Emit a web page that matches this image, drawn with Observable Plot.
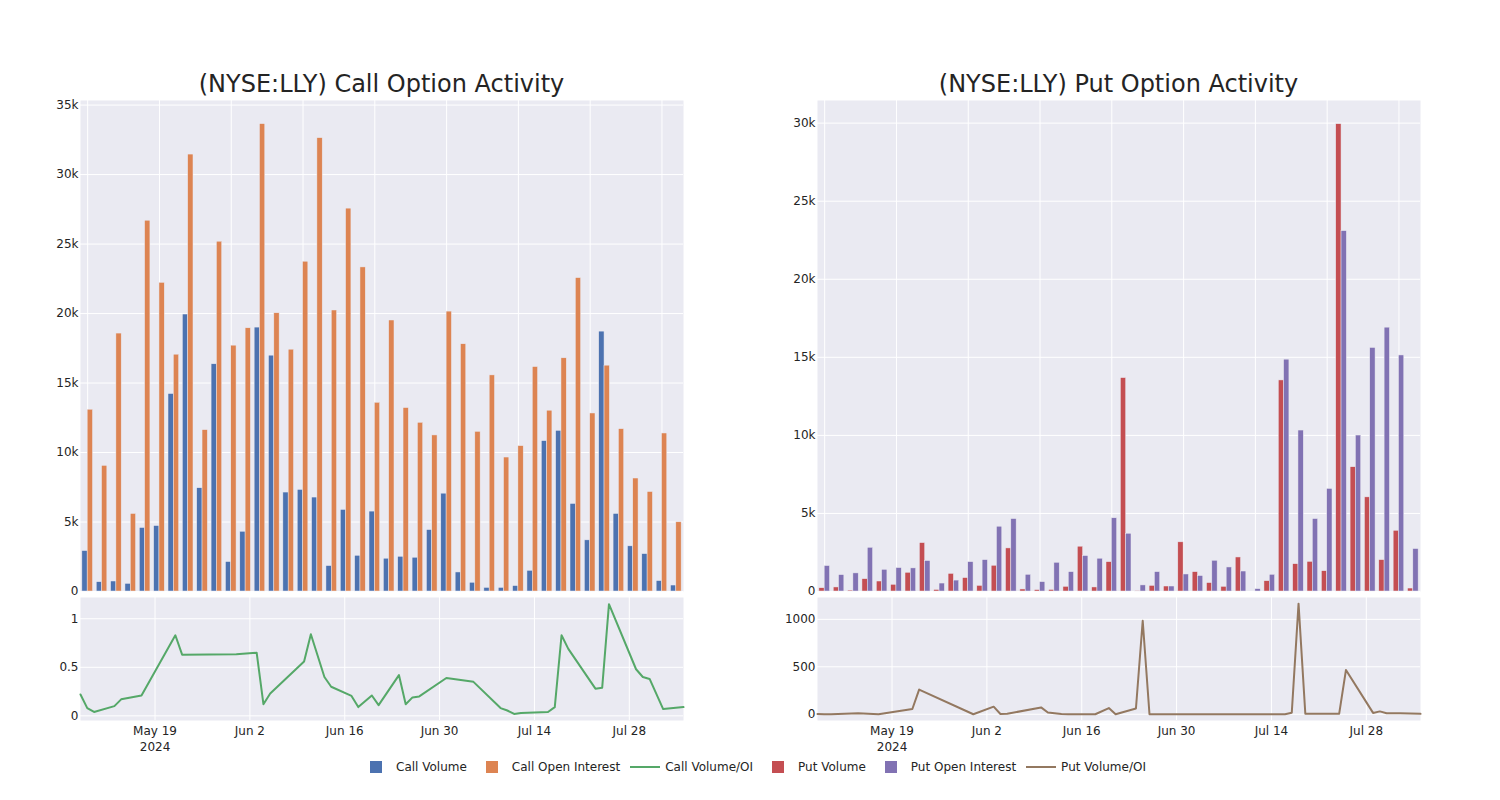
<!DOCTYPE html>
<html><head><meta charset="utf-8">
<script src="https://cdn.jsdelivr.net/npm/d3@7"></script>
<script src="https://cdn.jsdelivr.net/npm/@observablehq/plot@0.6"></script>
<style>
body{margin:0;background:#fff;font-family:"DejaVu Sans",sans-serif;}
#root{position:relative;width:1500px;height:800px;overflow:hidden;background:#fff}
.chart{position:absolute}
.title{position:absolute;font-size:24px;line-height:24px;color:rgb(36,36,36);white-space:nowrap;transform:translateX(-50%)}
#legend{position:absolute;left:356px;top:759px;height:16px;display:flex;align-items:center;font-size:12px;color:rgb(36,36,36)}
.item{display:flex;align-items:center;margin-right:5px}
.sym{width:40px;height:16px;display:flex;align-items:center;justify-content:center}
.sq{width:12px;height:12px}
.ln{width:30px;height:2px}
</style></head><body><div id="root"></div><script>
const dates = ["2024-05-08","2024-05-09","2024-05-10","2024-05-13","2024-05-14","2024-05-17","2024-05-22","2024-05-23","2024-05-31","2024-06-03","2024-06-04","2024-06-05","2024-06-10","2024-06-11","2024-06-13","2024-06-14","2024-06-17","2024-06-18","2024-06-20","2024-06-21","2024-06-24","2024-06-25","2024-06-26","2024-06-27","2024-07-01","2024-07-05","2024-07-09","2024-07-10","2024-07-11","2024-07-12","2024-07-16","2024-07-17","2024-07-18","2024-07-19","2024-07-23","2024-07-24","2024-07-25","2024-07-29","2024-07-30","2024-07-31","2024-08-02","2024-08-05"];
const callVolume = [2910,670,720,550,4570,4710,14210,19930,7430,16350,2120,4300,18990,16970,7120,7310,6760,1830,5870,2570,5750,2360,2500,2430,4420,7040,1370,630,260,260,390,1490,10820,11560,6300,3680,18700,5580,3250,2690,750,430];
const callOI = [13080,9040,18560,5580,26680,22210,17040,31440,11610,25170,17690,18940,33630,20020,17400,23730,32620,20220,27550,23320,13580,19500,13200,12140,11230,20140,17790,11490,15550,9640,10460,16150,13010,16780,22550,12810,16250,11680,8130,7160,11370,4980];
const callRatio = [0.22,0.08,0.04,0.10,0.17,0.21,0.83,0.63,0.635,0.65,0.12,0.23,0.56,0.84,0.40,0.30,0.205,0.09,0.21,0.11,0.42,0.12,0.19,0.20,0.39,0.35,0.08,0.055,0.02,0.03,0.04,0.09,0.83,0.69,0.28,0.29,1.15,0.48,0.40,0.38,0.07,0.09];
const putVolume = [210,260,60,790,640,430,1200,3100,100,1130,860,360,1650,2760,130,90,100,300,2870,260,1880,13670,30,360,320,3150,1240,540,300,2180,0,660,13520,1750,1900,1300,29930,7960,6030,2010,3890,190];
const putOI = [1630,1050,1160,2800,1390,1500,1480,1950,510,700,1880,2010,4150,4640,1070,600,1840,1240,2270,2100,4690,3700,390,1240,320,1090,990,1970,1540,1280,150,1070,14850,10310,4640,6570,23080,9990,15600,16900,15120,2720];
const putRatio = [3,1,0,7,10,1,55,260,0,80,2,5,72,18,2,0,0,0,65,0,60,985,0,0,0,0,0,0,0,0,0,15,1165,5,5,6,467,14,30,10,10,4];
const tickDates = ["2024-05-19","2024-06-02","2024-06-16","2024-06-30","2024-07-14","2024-07-28"];
const tickLabels = ["May 19\n2024","Jun 2","Jun 16","Jun 30","Jul 14","Jul 28"];
const callBarTicks = [0,5000,10000,15000,20000,25000,30000,35000];
const putBarTicks = [0,5000,10000,15000,20000,25000,30000];
const callLineTicks = [0,0.5,1];
const putLineTicks = [0,500,1000];

const C = {callV:"#4C72B0", callO:"#DD8452", callR:"#55A868", putV:"#C44E52", putO:"#8172B3", putR:"#937860", bg:"#EAEAF2", txt:"rgb(36,36,36)"};
const FONT = "DejaVu Sans";
const root = document.getElementById("root");

function place(el, left, top){ const w=document.createElement("div"); w.className="chart"; w.style.left=left+"px"; w.style.top=top+"px"; w.appendChild(el); root.appendChild(w); }

function barChart(vol, oi, colV, colO, yMax, yTicks, mL, mR){
  const rows = dates.map((d,i)=>({date:d, vol:vol[i], oi:oi[i]}));
  const W=700, H=510, pad=0.26;
  const inset = ((W-mL-mR)/dates.length)*(1-pad)/2;
  return Plot.plot({
    width:W, height:H, marginLeft:mL, marginRight:mR, marginTop:10, marginBottom:9,
    style:{background:"transparent", fontFamily:FONT, fontSize:"12px", color:C.txt},
    x:{type:"band", domain:dates, paddingInner:pad, paddingOuter:pad/2, round:false, axis:null},
    y:{domain:[0,yMax], axis:null},
    marks:[
      Plot.frame({fill:C.bg, stroke:null}),
      Plot.gridX(dates.filter((d,i)=>i%5===0), {stroke:"white", strokeOpacity:1, strokeWidth:1}),
      Plot.gridY(yTicks, {stroke:"white", strokeOpacity:1, strokeWidth:1}),
      Plot.axisY(yTicks, {tickSize:0, tickPadding:2, tickFormat:d3.format("~s"), fontSize:12, label:null}),
      Plot.barY(rows, {x:"date", y:"vol", fill:colV, insetRight:inset, stroke:C.bg, strokeWidth:0.5}),
      Plot.barY(rows, {x:"date", y:"oi", fill:colO, insetLeft:inset, stroke:C.bg, strokeWidth:0.5})
    ]
  });
}

function lineChart(ratio, col, yDom, yTicks, mL, mR){
  const rows = dates.map((d,i)=>({date:new Date(d), r:ratio[i]}));
  const ticks = tickDates.map(d=>new Date(d));
  return Plot.plot({
    width:700, height:170, marginLeft:mL, marginRight:mR, marginTop:7, marginBottom:40,
    style:{background:"transparent", fontFamily:FONT, fontSize:"12px", color:C.txt},
    x:{type:"utc", domain:[new Date(dates[0]), new Date(dates[dates.length-1])], axis:null},
    y:{domain:yDom, axis:null},
    marks:[
      Plot.frame({fill:C.bg, stroke:null}),
      Plot.gridX(ticks, {stroke:"white", strokeOpacity:1, strokeWidth:1}),
      Plot.gridY(yTicks, {stroke:"white", strokeOpacity:1, strokeWidth:1}),
      Plot.axisX(ticks, {tickSize:0, tickPadding:3, tickFormat:(d,i)=>tickLabels[i], fontSize:12, lineHeight:1.33, label:null}),
      Plot.axisY(yTicks, {tickSize:0, tickPadding:2, tickFormat:d=>String(d), fontSize:12, label:null}),
      Plot.lineY(rows, {x:"date", y:"r", stroke:col, strokeWidth:2})
    ]
  });
}

place(barChart(callVolume, callOI, C.callV, C.callO, 35330, callBarTicks, 80, 17), 0, 90);
place(lineChart(callRatio, C.callR, [-0.048, 1.219], callLineTicks, 80, 17), 0, 590);
place(barChart(putVolume, putOI, C.putV, C.putO, 31450, putBarTicks, 77, 20), 740, 90);
place(lineChart(putRatio, C.putR, [-66, 1230], putLineTicks, 77, 20), 740, 590);

function title(text, cx){ const t=document.createElement("div"); t.className="title"; t.style.left=cx+"px"; t.style.top="72px"; t.textContent=text; root.appendChild(t); }
title("(NYSE:LLY) Call Option Activity", 381.5);
title("(NYSE:LLY) Put Option Activity", 1118.5);

const legendItems = [
  {label:"Call Volume", color:C.callV, kind:"sq"},
  {label:"Call Open Interest", color:C.callO, kind:"sq"},
  {label:"Call Volume/OI", color:C.callR, kind:"ln"},
  {label:"Put Volume", color:C.putV, kind:"sq"},
  {label:"Put Open Interest", color:C.putO, kind:"sq"},
  {label:"Put Volume/OI", color:C.putR, kind:"ln"}
];
const lg = document.createElement("div"); lg.id="legend";
for (const it of legendItems){
  const item=document.createElement("div"); item.className="item";
  const sym=document.createElement("div"); sym.className="sym";
  const s=document.createElement("div"); s.className=it.kind; s.style.background=it.color; sym.appendChild(s);
  const lab=document.createElement("span"); lab.textContent=it.label;
  item.appendChild(sym); item.appendChild(lab); lg.appendChild(item);
}
root.appendChild(lg);
</script></body></html>
